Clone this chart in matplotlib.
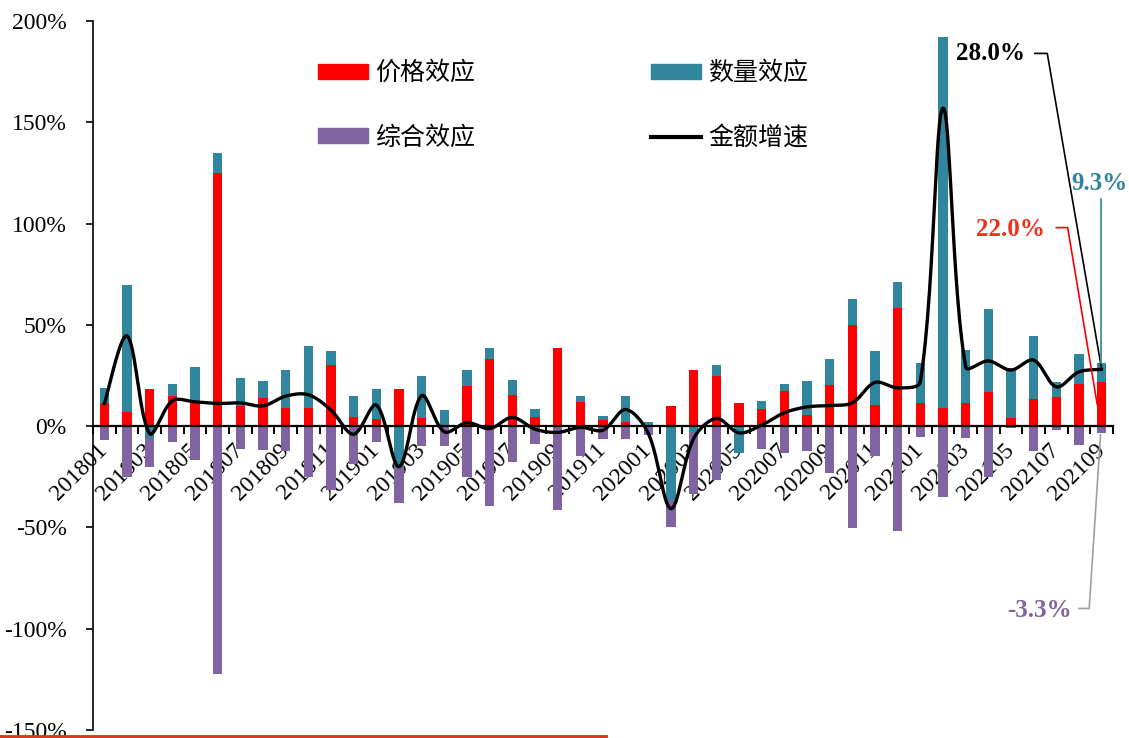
import matplotlib
matplotlib.use("Agg")
import matplotlib.pyplot as plt
from matplotlib.lines import Line2D
from matplotlib.patches import Patch
import numpy as np

plt.rcParams['font.family'] = ['Liberation Serif', 'Noto Sans CJK SC']

# Data (%)
months = ['201801', '201802', '201803', '201804', '201805', '201806', '201807', '201808',
          '201809', '201810', '201811', '201812', '201901', '201902', '201903', '201904',
          '201905', '201906', '201907', '201908', '201909', '201910', '201911', '201912',
          '202001', '202002', '202003', '202004', '202005', '202006', '202007', '202008',
          '202009', '202010', '202011', '202012', '202101', '202102', '202103', '202104',
          '202105', '202106', '202107', '202108', '202109']
price_effect = [11.2, 7.0, 18.1, 15.0, 11.5, 125.0, 10.0, 14.0, 9.2, 9.2, 30.3, 4.6,
                3.5, 18.1, 3.8, 0.0, 19.9, 33.1, 15.6, 4.6, 38.7, 11.7, 3.1, 2.1,
                0.0, 9.9, 27.7, 24.9, 11.2, 8.4, 17.4, 5.4, 20.2, 49.9, 10.2, 58.3,
                11.5, 9.0, 11.2, 16.9, 3.8, 13.3, 14.2, 20.6, 22.0]
quantity_effect = [7.4, 62.6, -6.1, 5.6, 17.6, 9.8, 14.0, 8.4, 18.5, 30.5, 6.7, 10.2,
                   14.8, -20.0, 21.1, 7.9, 7.8, 5.4, 7.0, 4.1, 0.0, 3.0, 2.0, 12.7,
                   2.1, -36.5, -2.3, 5.5, -13.5, 3.9, 3.3, 16.7, 12.9, 12.7, 26.7, 12.8,
                   19.5, 183.0, 26.3, 40.9, 24.7, 31.3, 7.7, 15.1, 9.3]
combined_effect = [-6.9, -25.0, -14.0, -8.0, -16.5, -122.5, -11.5, -11.9, -12.2, -25.0, -31.6, -18.5,
                   -8.0, -18.0, -9.7, -9.7, -25.3, -39.3, -17.9, -8.9, -41.2, -14.8, -6.4, -6.4,
                   -4.4, -13.5, -31.0, -26.5, 0.0, -11.4, -13.2, -12.3, -23.0, -50.4, -14.7, -52.0,
                   -5.3, -35.0, -5.8, -25.0, -0.7, -12.1, -2.1, -9.4, -3.3]
amount_growth = [11.0, 44.5, -3.6, 12.5, 12.0, 11.2, 11.5, 10.0, 14.8, 15.5, 7.9, -4.0,
                 10.4, -20.0, 15.0, -2.8, 1.7, -1.2, 4.3, -1.5, -3.1, -0.6, -2.0, 8.2,
                 -3.6, -40.7, -6.1, 3.8, -3.3, 0.5, 6.6, 9.5, 10.2, 11.5, 21.6, 18.9,
                 22.0, 157.0, 29.3, 32.2, 27.7, 32.6, 19.4, 26.8, 28.0]

RED = '#FF0000'
TEAL = '#31859C'
PURPLE = '#8064A2'

# pixel size of one month and of 1% on the figure, used to weight the smoothing
PX_PER_MONTH = 22.67
PX_PER_PCT = 2.025


def smooth_curve(y, n=30):
    # Bezier "smoothed line" through every point, tangents weighted by chord length
    y = np.asarray(y, dtype=float)
    px = np.arange(len(y)) * PX_PER_MONTH
    py = y * PX_PER_PCT
    pts = np.column_stack([px, py])
    m = len(pts)
    tang = np.zeros_like(pts)
    for i in range(m):
        a = pts[max(i - 1, 0)]
        b = pts[min(i + 1, m - 1)]
        tang[i] = b - a
    seg = np.linalg.norm(np.diff(pts, axis=0), axis=1)
    out = []
    t = np.linspace(0, 1, n)[:, None]
    for i in range(m - 1):
        p0, p3 = pts[i], pts[i + 1]
        d_prev = seg[i - 1] if i > 0 else seg[i]
        d_next = seg[i + 1] if i + 1 < m - 1 else seg[i]
        k1 = seg[i] / (d_prev + seg[i]) / 1.5
        k2 = seg[i] / (seg[i] + d_next) / 1.5
        c1 = p0 + tang[i] * k1 / 2
        c2 = p3 - tang[i + 1] * k2 / 2
        b = ((1 - t) ** 3 * p0 + 3 * (1 - t) ** 2 * t * c1
             + 3 * (1 - t) * t ** 2 * c2 + t ** 3 * p3)
        out.append(b)
    out = np.vstack(out)
    return out[:, 0] / PX_PER_MONTH, out[:, 1] / PX_PER_PCT


fig = plt.figure(figsize=(11.29, 7.38), dpi=100)
ax = fig.add_axes([93 / 1129, 8 / 738, (1113 - 93) / 1129, (730 - 21) / 738])

x = np.arange(len(months))
pos_base = np.zeros(len(months))
neg_base = np.zeros(len(months))
width = 0.42
for vals, color in [(price_effect, RED), (quantity_effect, TEAL), (combined_effect, PURPLE)]:
    v = np.asarray(vals, dtype=float)
    bottom = np.where(v >= 0, pos_base, neg_base)
    ax.bar(x, v, width, bottom=bottom, color=color, linewidth=0, zorder=2)
    pos_base = pos_base + np.where(v >= 0, v, 0)
    neg_base = neg_base + np.where(v < 0, v, 0)

sx, sy = smooth_curve(amount_growth)
ax.plot(sx, sy, color='black', lw=2.4, zorder=4, solid_capstyle='round')

ax.set_xlim(-0.5, len(months) - 0.5)
ax.set_ylim(-150, 200)
ax.set_yticks(np.arange(-150, 201, 50))
ax.set_yticklabels([f'{v:.0f}%' for v in np.arange(-150, 201, 50)], fontsize=17)
ax.tick_params(axis='y', direction='out', length=5, width=1.2, pad=14)

ax.spines['top'].set_visible(False)
ax.spines['right'].set_visible(False)
ax.spines['bottom'].set_position(('data', 0))
ax.spines['bottom'].set_linewidth(1.6)
ax.spines['bottom'].set_zorder(3)
ax.spines['left'].set_linewidth(1.2)

ax.set_xticks(x[::2])
ax.set_xticklabels(months[::2], rotation=45, ha='right', va='center',
                   rotation_mode='anchor', fontsize=17)
ax.set_xticks(np.arange(-0.5, len(months), 1), minor=True)
ax.tick_params(axis='x', which='major', length=0, pad=15)
ax.tick_params(axis='x', which='minor', direction='out', length=6, width=1.4)

# Legend
handles = [Patch(color=RED, label='价格效应'), Patch(color=PURPLE, label='综合效应'),
           Patch(color=TEAL, label='数量效应'), Line2D([], [], color='black', lw=3, label='金额增速')]
fig.legend(handles=handles, ncol=2, loc='upper left', bbox_to_anchor=(318 / 1129, 1 - 60 / 738),
           frameon=False, prop={'family': ['Noto Sans CJK SC'], 'size': 18, 'weight': 'light'},
           handlelength=2.0, handleheight=0.55, handletextpad=0.3, columnspacing=7.0,
           labelspacing=1.55, borderpad=0, borderaxespad=0)

# Callouts for the latest month
last = len(months) - 1
ann = dict(fontsize=18, fontweight='bold', zorder=6)
ax.text(40.6, 184, f'{amount_growth[last]:.1f}%', color='black', ha='right', va='center', **ann)
ax.plot([41.05, 41.6, last], [184, 184, amount_growth[last]], color='black', lw=1.2, zorder=5)

ax.text(41.5, 97, f'{price_effect[last]:.1f}%', color='#F0301A', ha='right', va='center', **ann)
ax.plot([42.0, 42.5, last - 0.2], [98, 98, price_effect[last] / 2], color=RED, lw=1.2, zorder=5)

ax.text(last - 0.1, 120, f'{quantity_effect[last]:.1f}%', color=TEAL, ha='center', va='center', **ann)
ax.plot([last - 0.05, last - 0.05], [112, price_effect[last] + quantity_effect[last]],
        color=TEAL, lw=1.2, zorder=5)

ax.text(42.7, -91, f'{combined_effect[last]:.1f}%', color=PURPLE, ha='right', va='center', **ann)
ax.plot([43.0, 43.45, last - 0.05], [-90, -90, combined_effect[last] - 1], color='#A0A0A0',
        lw=1.2, zorder=5)

# Decorative rule at the bottom of the page
fig.add_artist(Line2D([0, 605 / 1129], [1.5 / 738, 1.5 / 738], color='#D9391A', lw=3.5,
                      transform=fig.transFigure))

fig.savefig('out.png', dpi=100)
